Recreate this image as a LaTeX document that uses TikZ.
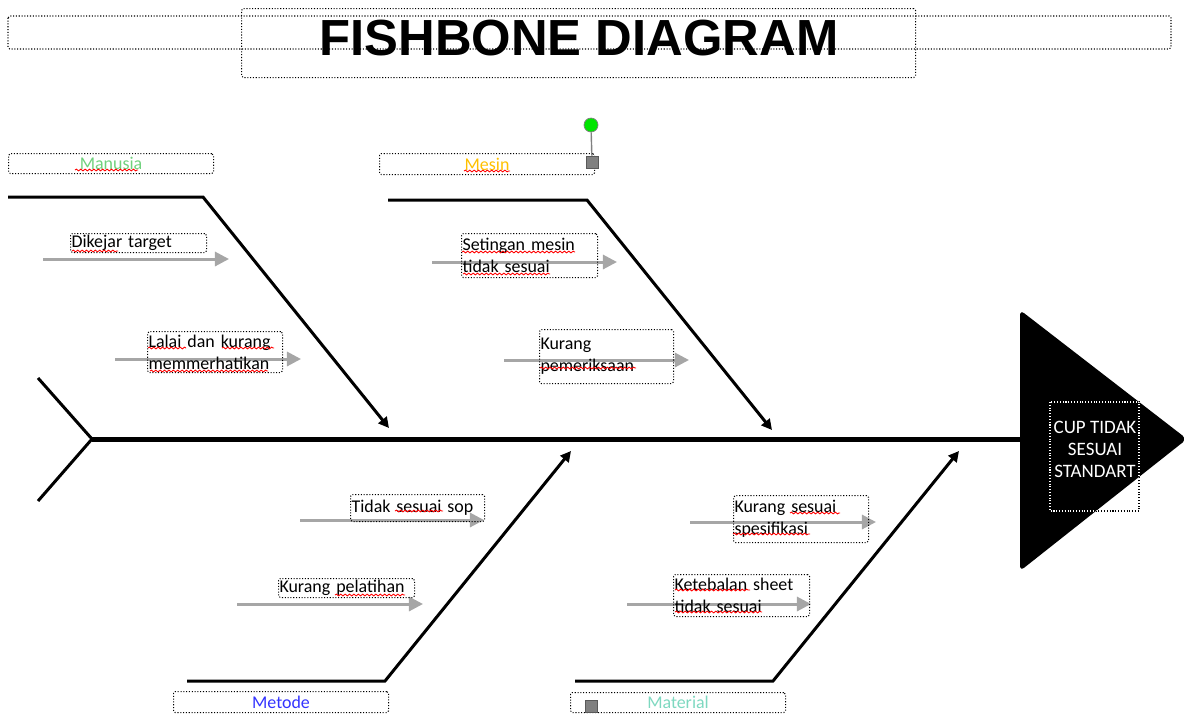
\documentclass[tikz,border=0pt]{standalone}
\usepackage{fontspec}
\setmainfont{Carlito}
\newfontfamily\titlefont{Liberation Sans}
\usetikzlibrary{arrows.meta,decorations.pathmorphing}

\newlength\pu
\setlength\pu{0.02cm}
\definecolor{manusiac}{HTML}{70D17C}
\definecolor{mesinc}{HTML}{FFC000}
\definecolor{metodec}{HTML}{3333FF}
\definecolor{materialc}{HTML}{7ED8C0}
\definecolor{arrowgray}{HTML}{A6A6A6}

\tikzset{
  bone/.style={line width=3\pu, -{Triangle[length=6pt,width=6pt]}},
  causearrow/.style={line width=3\pu, draw=arrowgray, -{Triangle[length=8pt,width=8pt]}},
  causebox/.style={draw, densely dotted, line width=0.6pt, rounded corners=1pt, anchor=north west,
    inner xsep=1\pu, inner ysep=0pt, align=left, font=\fontsize{10.2}{12.5}\selectfont},
  catbox/.style={causebox, align=center},
  typo/.style={draw=red, line width=0.5pt, decorate, decoration={snake, amplitude=0.5pt, segment length=2.5pt}},
  handle/.style={draw=gray!70!black, fill=gray, minimum size=12\pu, inner sep=0pt},
}

\begin{document}
\begin{tikzpicture}[x=1\pu,y=-1\pu]
	\useasboundingbox (0,0) rectangle (1184,718);
	% title
	\draw[densely dotted, line width=0.6pt, rounded corners=1pt] (8,16) rectangle (1171,49);
	\node[causebox, minimum width=674\pu, minimum height=69\pu] (titlebox) at (241,8) {};
	\node[font=\titlefont\bfseries\fontsize{28.9}{30}\selectfont, inner sep=0pt] (title) at (579,38) {FISHBONE DIAGRAM};
	
	% head and spine
	\coordinate (headtop) at (1020,310);
	\coordinate (headtip) at (1187,439);
	\coordinate (headbot) at (1020,571);
	\coordinate (tail) at (92,439);
	\fill[rounded corners=3pt] (headtop) -- (headtip) -- (headbot) -- cycle;
	\draw[line width=5\pu] (tail) -- (1022,439);
	\draw[line width=3\pu] (38,378) -- (tail) -- (38,501);
	\draw[densely dotted, line width=0.6pt] (1050,402) rectangle (1139,511);
	\begin{scope}
	\clip (headtop) -- (headtip) -- (headbot) -- cycle;
	\draw[white, densely dotted, line width=0.6pt] (1050,402) rectangle (1139,511);
	\end{scope}
	\node[text=white, align=center, inner sep=0pt, font=\fontsize{10.8}{12.5}\selectfont] (effect) at (1095,449) {CUP TIDAK\\SESUAI\\STANDART};
	
	% bones
	\draw[bone] (8,197) -- (203,197) -- (389,428);
	\draw[bone] (388,200) -- (587,200) -- (772,430);
	\draw[bone] (187,681) -- (385,681) -- (571,451);
	\draw[bone] (575,681) -- (773,681) -- (959,451);
	
	% categories
	\node[catbox, minimum width=205\pu, minimum height=20\pu, text=manusiac] (manusia) at (8,153) {Manusia};
	\node[catbox, minimum width=215\pu, minimum height=21\pu, text=mesinc] (mesin) at (379,153) {Mesin};
	\node[catbox, minimum width=215\pu, minimum height=21\pu, text=metodec] (metode) at (173,691) {Metode};
	\node[catbox, minimum width=215\pu, minimum height=20\pu, text=materialc] (material) at (570,692) {Material};
	
	% causes
	\foreach \xa/\xb/\y in {43/229/259, 115/301/359, 432/617/262, 504/689/360, 300/484/520, 237/423/604, 690/876/522, 627/811/604}
		\draw[causearrow] (\xa,\y) -- (\xb,\y);
	\node[causebox, text width=134\pu, minimum height=19\pu] (dikejar) at (70,233) {Dikejar target};
	\node[causebox, text width=133\pu, minimum height=41\pu] (lalai) at (147,331) {Lalai dan kurang\\memmerhatikan};
	\node[causebox, text width=134\pu, minimum height=44\pu] (setingan) at (461,233) {Setingan mesin\\tidak sesuai};
	\node[causebox, text width=132\pu, minimum height=54\pu] (periksa) at (539,329) {Kurang\\pemeriksaan};
	\node[causebox, text width=132\pu, minimum height=27\pu] (sop) at (350,494) {Tidak sesuai sop};
	\node[causebox, text width=134\pu, minimum height=19\pu] (latih) at (278,578) {Kurang pelatihan};
	\node[causebox, text width=133\pu, minimum height=47\pu] (spek) at (733,495) {Kurang sesuai\\spesifikasi};
	\node[causebox, text width=134\pu, minimum height=42\pu] (tebal) at (673,574) {Ketebalan sheet\\tidak sesuai};
	
	% spelling marks
	\foreach \xa/\xb/\y in {75/138/170, 464/510/171, 72/118/251, 148/186/348, 222/274/348, 150/268/371,
		462/575/252, 463/550/274, 540/636/368, 395/443/511, 335/405/595, 790/840/513, 733/810/534, 675/750/590, 675/762/612}
		\draw[typo] (\xa,\y) -- (\xb,\y);
	
	% selection handles
	\node[circle, draw=gray, fill=green!90!black, minimum size=14\pu, inner sep=0pt] (rothandle) at (591,125) {};
	\node[handle] (mesinhandle) at (592,162) {};
	\draw[gray, line width=0.8pt] (rothandle) -- (mesinhandle);
	\node[handle] (materialhandle) at (591,706) {};
\end{tikzpicture}
\end{document}
